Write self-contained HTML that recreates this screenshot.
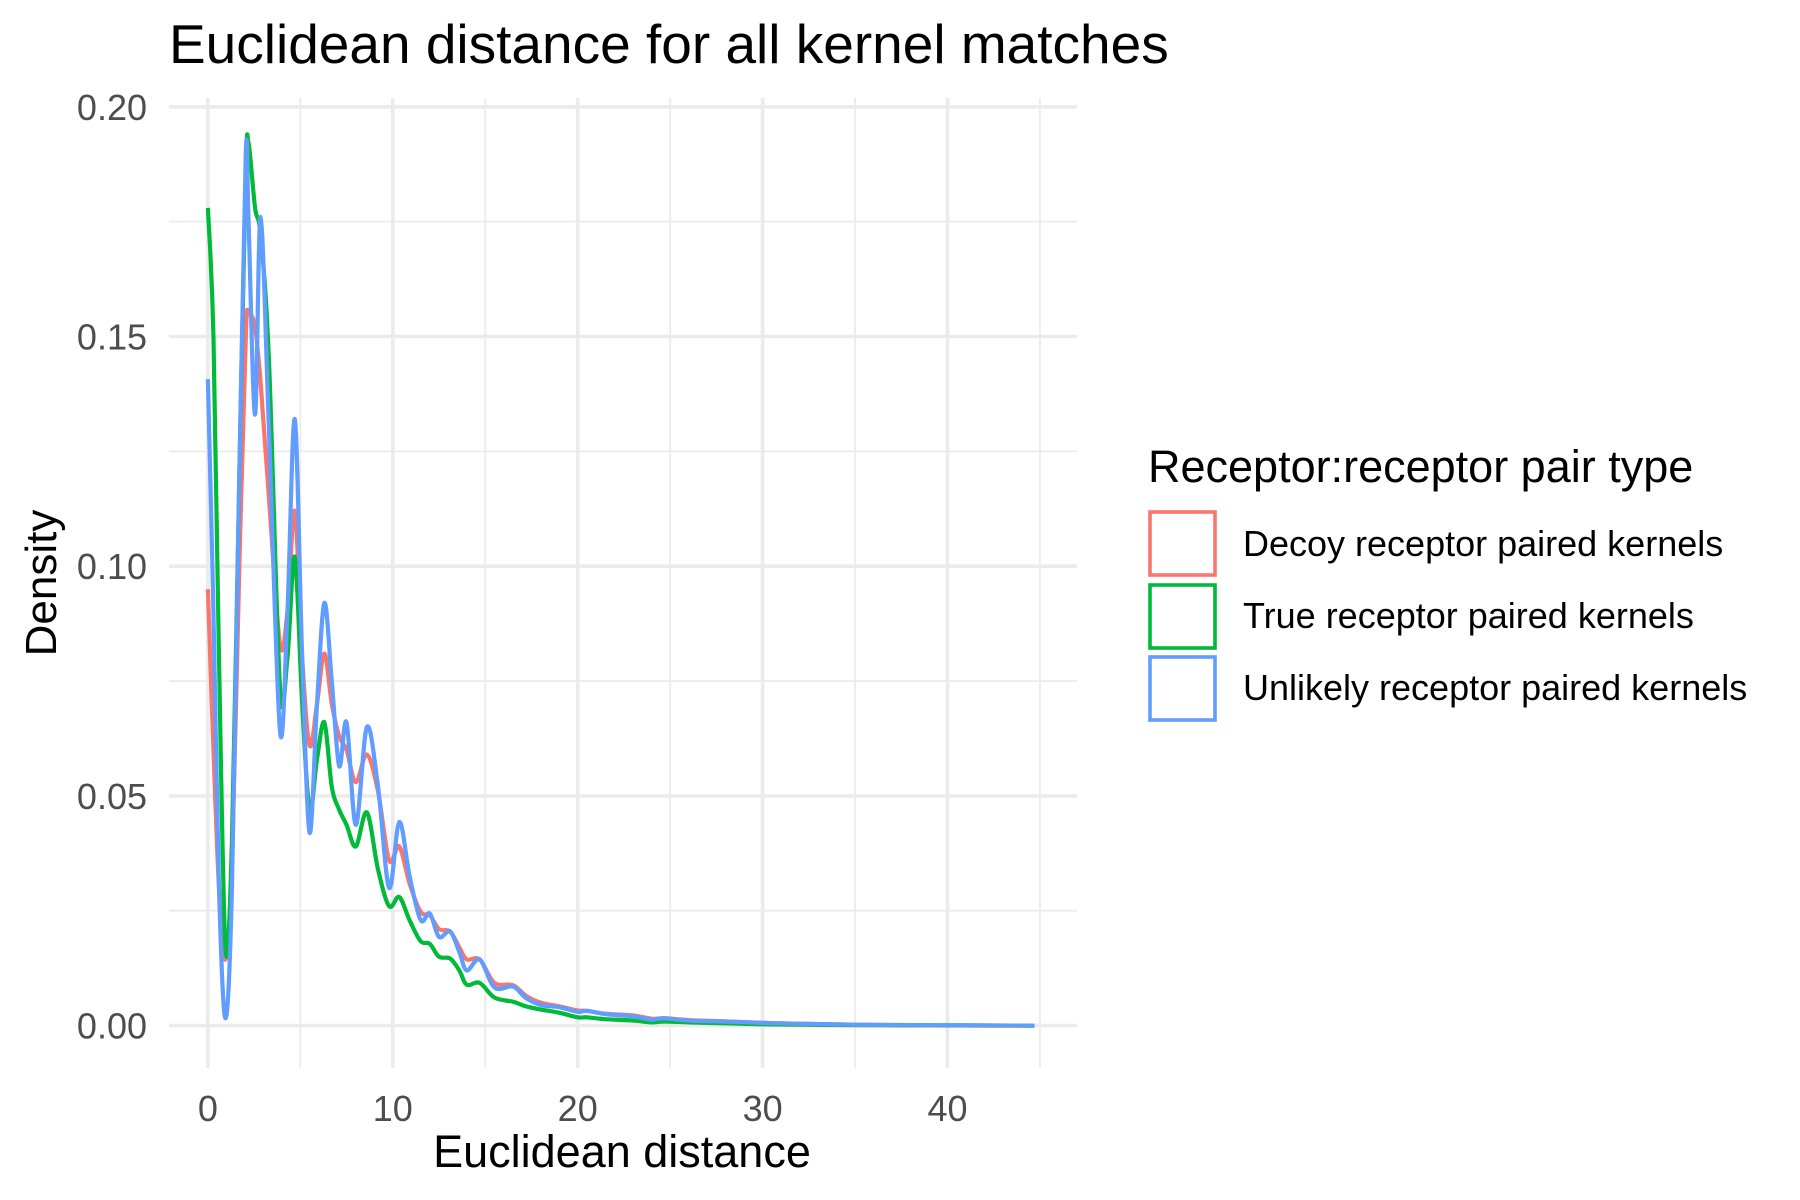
<!DOCTYPE html>
<html><head><meta charset="utf-8"><style>
html,body{margin:0;padding:0;background:#fff;}
svg{display:block;font-family:"Liberation Sans",Arial,sans-serif;}
</style></head><body>
<svg id="chart" width="1800" height="1200" viewBox="0 0 1800 1200">
<text x="169" y="63" font-size="55" fill="#000">Euclidean distance for all kernel matches</text>
<g id="grid"></g>
<g id="yticks"></g>
<g id="xticks"></g>
<g id="series"></g>
<text x="622" y="1167" font-size="45" text-anchor="middle" fill="#000">Euclidean distance</text>
<text transform="translate(56,583) rotate(-90)" font-size="44" text-anchor="middle" fill="#000">Density</text>
<g>
<text x="1148" y="482" font-size="45" fill="#000">Receptor:receptor pair type</text>
<g>
<rect x="1150" y="512" width="65" height="63" fill="#fff" stroke="#F8766D" stroke-width="3.6"></rect>
<text x="1243" y="556" font-size="36" fill="#000">Decoy receptor paired kernels</text></g>
<g>
<rect x="1150" y="585" width="65" height="63" fill="#fff" stroke="#00BA38" stroke-width="3.6"></rect>
<text x="1243" y="628" font-size="36" fill="#000">True receptor paired kernels</text></g>
<g>
<rect x="1150" y="657" width="65" height="63" fill="#fff" stroke="#619CFF" stroke-width="3.6"></rect>
<text x="1243" y="700" font-size="36" fill="#000">Unlikely receptor paired kernels</text></g>
</g>
</svg>
<script>
const distances = [0,0.3,0.6,0.95,1.3,1.7,2.05,2.2,2.55,2.85,3.3,3.9,4.3,4.7,5.1,5.5,5.9,6.3,6.7,7.1,7.5,8.0,8.6,9.2,9.8,10.35,10.9,11.5,12.0,12.5,13.1,13.6,14.0,14.7,15.5,16.5,17.2,18,19,20,20.5,21.5,23,24,24.7,26,28,30,32,35,38,41,44.7];
const decoyDensity = [0.095,0.06,0.03,0.0144,0.035,0.10,0.15,0.155,0.152,0.14,0.115,0.083,0.09,0.112,0.08,0.061,0.07,0.081,0.07,0.063,0.060,0.053,0.059,0.051,0.036,0.039,0.031,0.0248,0.024,0.021,0.0205,0.017,0.0144,0.0144,0.0093,0.0088,0.0065,0.005,0.0042,0.0033,0.0032,0.0026,0.0022,0.0015,0.0016,0.0012,0.0009,0.0006,0.0004,0.0002,0.0001,0.00005,0];
const trueDensity = [0.178,0.15,0.08,0.0168,0.04,0.12,0.186,0.192,0.178,0.172,0.145,0.0735,0.08,0.102,0.07,0.047,0.058,0.066,0.052,0.047,0.0437,0.039,0.0464,0.034,0.026,0.028,0.023,0.0184,0.0178,0.015,0.0146,0.012,0.0089,0.0093,0.0061,0.0052,0.0042,0.0035,0.0028,0.0018,0.0018,0.0014,0.0011,0.0007,0.0009,0.0007,0.0005,0.0003,0.0002,0.0001,0.00005,0.00002,0];
const unlikelyDensity = [0.1407,0.09,0.03,0.0016,0.03,0.12,0.19,0.175,0.133,0.176,0.13,0.064,0.09,0.132,0.08,0.042,0.07,0.092,0.075,0.0565,0.066,0.0437,0.065,0.052,0.030,0.0443,0.0327,0.023,0.0244,0.0193,0.0205,0.016,0.012,0.0144,0.0083,0.0085,0.006,0.0045,0.004,0.003,0.0032,0.0025,0.002,0.0013,0.0016,0.0011,0.0009,0.0006,0.0004,0.0002,0.0001,0.00005,0];
const xTickValues = [0,10,20,30,40];
const xTickLabels = ["0","10","20","30","40"];
const xMinorValues = [5,15,25,35,45];
const yTickValues = [0,0.05,0.10,0.15,0.20];
const yTickLabels = ["0.00","0.05","0.10","0.15","0.20"];
const yMinorValues = [0.025,0.075,0.125,0.175];

const NS='http://www.w3.org/2000/svg';
const X0=207.9, XK=18.49, Y0=1025.6, YK=4594;
const PL=169, PR=1077, PT=98, PB=1068;
function xs(v){return X0+v*XK;}
function ys(v){return Y0-v*YK;}
function mk(tag,parent){const e=document.createElementNS(NS,tag);parent.appendChild(e);return e;}
const grid=document.getElementById('grid');
yMinorValues.forEach(v=>{const l=mk('line',grid);


l.setAttribute('x1',PL);l.setAttribute('x2',PR);l.setAttribute('y1',ys(v));l.setAttribute('y2',ys(v));l.setAttribute('stroke','#ebebeb');l.setAttribute('stroke-width','1.8');});
xMinorValues.forEach(v=>{const l=mk('line',grid);


l.setAttribute('x1',xs(v));l.setAttribute('x2',xs(v));l.setAttribute('y1',PT);l.setAttribute('y2',PB);l.setAttribute('stroke','#ebebeb');l.setAttribute('stroke-width','1.8');});
yTickValues.forEach(v=>{const l=mk('line',grid);


l.setAttribute('x1',PL);l.setAttribute('x2',PR);l.setAttribute('y1',ys(v));l.setAttribute('y2',ys(v));l.setAttribute('stroke','#ebebeb');l.setAttribute('stroke-width','3.6');});
xTickValues.forEach(v=>{const l=mk('line',grid);


l.setAttribute('x1',xs(v));l.setAttribute('x2',xs(v));l.setAttribute('y1',PT);l.setAttribute('y2',PB);l.setAttribute('stroke','#ebebeb');l.setAttribute('stroke-width','3.6');});
const yt=document.getElementById('yticks');
yTickValues.forEach((v,i)=>{const t=mk('text',yt);


t.setAttribute('x',147);t.setAttribute('y',ys(v)+13);t.setAttribute('text-anchor','end');t.setAttribute('font-size','36');t.setAttribute('fill','#4d4d4d');t.textContent=yTickLabels[i];});
const xt=document.getElementById('xticks');
xTickValues.forEach((v,i)=>{const t=mk('text',xt);


t.setAttribute('x',xs(v));t.setAttribute('y',1121);t.setAttribute('text-anchor','middle');t.setAttribute('font-size','36');t.setAttribute('fill','#4d4d4d');t.textContent=xTickLabels[i];});
function pathFor(ys_){
  const P=distances.map((d,i)=>[xs(d),ys(ys_[i])]);
  let s='M'+P[0][0].toFixed(2)+','+P[0][1].toFixed(2);
  for(let i=0;i<P.length-1;i++){
    const p0=P[Math.max(0,i-1)],p1=P[i],p2=P[i+1],p3=P[Math.min(P.length-1,i+2)];
    const c1=[p1[0]+(p2[0]-p0[0])/6,p1[1]+(p2[1]-p0[1])/6];
    const c2=[p2[0]-(p3[0]-p1[0])/6,p2[1]-(p3[1]-p1[1])/6];
    s+='C'+c1[0].toFixed(2)+','+c1[1].toFixed(2)+' '+c2[0].toFixed(2)+','+c2[1].toFixed(2)+' '+p2[0].toFixed(2)+','+p2[1].toFixed(2);
  }
  return s;
}
const sg=document.getElementById('series');
[[decoyDensity,'#F8766D','decoy-density-line'],[trueDensity,'#00BA38','true-density-line'],[unlikelyDensity,'#619CFF','unlikely-density-line']].forEach(([arr,c,n])=>{
  const p=mk('path',sg);
  
  
  p.setAttribute('d',pathFor(arr));p.setAttribute('fill','none');p.setAttribute('stroke',c);p.setAttribute('stroke-width','4.2');p.setAttribute('stroke-linejoin','round');
});
</script>
</body></html>
